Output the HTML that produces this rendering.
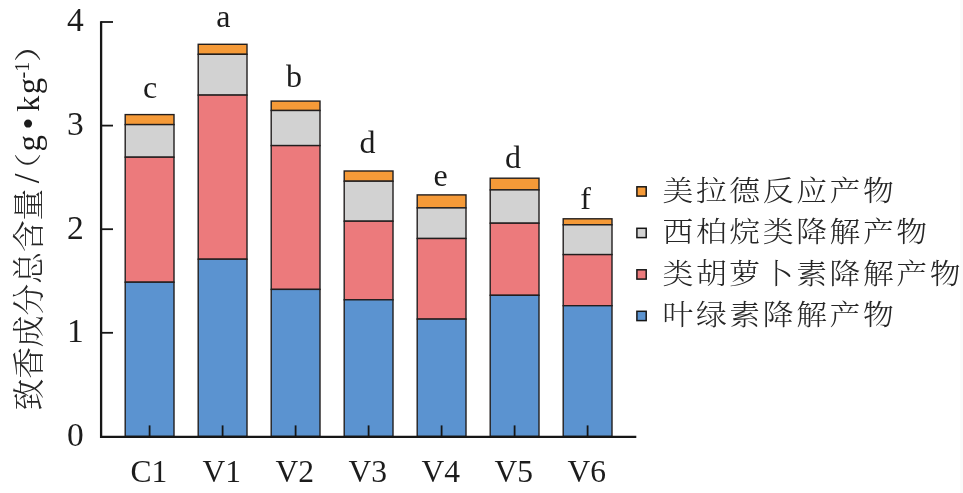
<!DOCTYPE html>
<html lang="zh"><head><meta charset="utf-8"><title>chart</title>
<style>
html,body{margin:0;padding:0;background:#fff;}
body{width:963px;height:493px;overflow:hidden;}
svg{display:block;}
text{font-family:"Liberation Serif","Noto Serif CJK SC",serif;fill:#1c1c1c;}
.cjk{font-family:"Noto Serif CJK SC","Liberation Serif",serif;font-weight:300;fill:#262626;}
</style></head><body>
<svg width="963" height="493" viewBox="0 0 963 493">
<rect width="963" height="493" fill="#fff"/>
<rect x="960.3" y="0" width="2.7" height="493" fill="#fafafa"/>

<rect x="125.2" y="114.6" width="48.8" height="10.0" fill="#f59a38" stroke="#221e1e" stroke-width="1.4"/>
<rect x="125.2" y="124.6" width="48.8" height="32.6" fill="#d2d2d2" stroke="#221e1e" stroke-width="1.4"/>
<rect x="125.2" y="157.2" width="48.8" height="125.0" fill="#ec7a7c" stroke="#221e1e" stroke-width="1.4"/>
<rect x="125.2" y="282.2" width="48.8" height="154.2" fill="#5b93d0" stroke="#221e1e" stroke-width="1.4"/>
<line x1="149.6" y1="436.4" x2="149.6" y2="425.4" stroke="#161616" stroke-width="1.8"/>
<text x="148.8" y="482.3" font-size="31.5" text-anchor="middle">C1</text>
<text x="150.0" y="97.6" font-size="32" text-anchor="middle">c</text>
<rect x="198.2" y="44.3" width="48.8" height="10.0" fill="#f59a38" stroke="#221e1e" stroke-width="1.4"/>
<rect x="198.2" y="54.3" width="48.8" height="40.8" fill="#d2d2d2" stroke="#221e1e" stroke-width="1.4"/>
<rect x="198.2" y="95.1" width="48.8" height="164.1" fill="#ec7a7c" stroke="#221e1e" stroke-width="1.4"/>
<rect x="198.2" y="259.2" width="48.8" height="177.2" fill="#5b93d0" stroke="#221e1e" stroke-width="1.4"/>
<line x1="222.6" y1="436.4" x2="222.6" y2="425.4" stroke="#161616" stroke-width="1.8"/>
<text x="221.8" y="482.3" font-size="31.5" text-anchor="middle">V1</text>
<text x="223.3" y="27.3" font-size="32" text-anchor="middle">a</text>
<rect x="271.2" y="101.1" width="48.8" height="9.4" fill="#f59a38" stroke="#221e1e" stroke-width="1.4"/>
<rect x="271.2" y="110.5" width="48.8" height="35.1" fill="#d2d2d2" stroke="#221e1e" stroke-width="1.4"/>
<rect x="271.2" y="145.6" width="48.8" height="143.8" fill="#ec7a7c" stroke="#221e1e" stroke-width="1.4"/>
<rect x="271.2" y="289.4" width="48.8" height="147.0" fill="#5b93d0" stroke="#221e1e" stroke-width="1.4"/>
<line x1="295.6" y1="436.4" x2="295.6" y2="425.4" stroke="#161616" stroke-width="1.8"/>
<text x="294.8" y="482.3" font-size="31.5" text-anchor="middle">V2</text>
<text x="293.9" y="87.4" font-size="32" text-anchor="middle">b</text>
<rect x="344.2" y="171.0" width="48.8" height="10.2" fill="#f59a38" stroke="#221e1e" stroke-width="1.4"/>
<rect x="344.2" y="181.2" width="48.8" height="40.0" fill="#d2d2d2" stroke="#221e1e" stroke-width="1.4"/>
<rect x="344.2" y="221.2" width="48.8" height="78.6" fill="#ec7a7c" stroke="#221e1e" stroke-width="1.4"/>
<rect x="344.2" y="299.8" width="48.8" height="136.6" fill="#5b93d0" stroke="#221e1e" stroke-width="1.4"/>
<line x1="368.6" y1="436.4" x2="368.6" y2="425.4" stroke="#161616" stroke-width="1.8"/>
<text x="367.8" y="482.3" font-size="31.5" text-anchor="middle">V3</text>
<text x="367.4" y="152.7" font-size="32" text-anchor="middle">d</text>
<rect x="417.2" y="194.9" width="48.8" height="13.0" fill="#f59a38" stroke="#221e1e" stroke-width="1.4"/>
<rect x="417.2" y="207.9" width="48.8" height="30.6" fill="#d2d2d2" stroke="#221e1e" stroke-width="1.4"/>
<rect x="417.2" y="238.5" width="48.8" height="80.6" fill="#ec7a7c" stroke="#221e1e" stroke-width="1.4"/>
<rect x="417.2" y="319.1" width="48.8" height="117.3" fill="#5b93d0" stroke="#221e1e" stroke-width="1.4"/>
<line x1="441.6" y1="436.4" x2="441.6" y2="425.4" stroke="#161616" stroke-width="1.8"/>
<text x="440.8" y="482.3" font-size="31.5" text-anchor="middle">V4</text>
<text x="440.6" y="186.0" font-size="32" text-anchor="middle">e</text>
<rect x="490.2" y="178.2" width="48.8" height="11.7" fill="#f59a38" stroke="#221e1e" stroke-width="1.4"/>
<rect x="490.2" y="189.9" width="48.8" height="33.3" fill="#d2d2d2" stroke="#221e1e" stroke-width="1.4"/>
<rect x="490.2" y="223.2" width="48.8" height="72.1" fill="#ec7a7c" stroke="#221e1e" stroke-width="1.4"/>
<rect x="490.2" y="295.3" width="48.8" height="141.1" fill="#5b93d0" stroke="#221e1e" stroke-width="1.4"/>
<line x1="514.6" y1="436.4" x2="514.6" y2="425.4" stroke="#161616" stroke-width="1.8"/>
<text x="513.8" y="482.3" font-size="31.5" text-anchor="middle">V5</text>
<text x="513.0" y="168.3" font-size="32" text-anchor="middle">d</text>
<rect x="563.2" y="218.8" width="48.8" height="6.0" fill="#f59a38" stroke="#221e1e" stroke-width="1.4"/>
<rect x="563.2" y="224.8" width="48.8" height="29.8" fill="#d2d2d2" stroke="#221e1e" stroke-width="1.4"/>
<rect x="563.2" y="254.6" width="48.8" height="51.1" fill="#ec7a7c" stroke="#221e1e" stroke-width="1.4"/>
<rect x="563.2" y="305.7" width="48.8" height="130.7" fill="#5b93d0" stroke="#221e1e" stroke-width="1.4"/>
<line x1="587.6" y1="436.4" x2="587.6" y2="425.4" stroke="#161616" stroke-width="1.8"/>
<text x="586.8" y="482.3" font-size="31.5" text-anchor="middle">V6</text>
<text x="585.6" y="208.8" font-size="32" text-anchor="middle">f</text>
<line x1="101.1" y1="21.2" x2="101.1" y2="438.0" stroke="#161616" stroke-width="2.3"/>
<line x1="100" y1="436.9" x2="636.3" y2="436.9" stroke="#161616" stroke-width="2.3"/>
<text x="83.8" y="445.7" font-size="33.5" text-anchor="end">0</text>
<line x1="100.8" y1="332.8" x2="113" y2="332.8" stroke="#161616" stroke-width="1.8"/>
<text x="83.8" y="342.1" font-size="33.5" text-anchor="end">1</text>
<line x1="100.8" y1="229.2" x2="113" y2="229.2" stroke="#161616" stroke-width="1.8"/>
<text x="83.8" y="238.5" font-size="33.5" text-anchor="end">2</text>
<line x1="100.8" y1="125.6" x2="113" y2="125.6" stroke="#161616" stroke-width="1.8"/>
<text x="83.8" y="134.9" font-size="33.5" text-anchor="end">3</text>
<line x1="100.8" y1="22.0" x2="113" y2="22.0" stroke="#161616" stroke-width="1.8"/>
<text x="83.8" y="31.3" font-size="33.5" text-anchor="end">4</text>
<rect x="636.9" y="186.8" width="9.3" height="9.3" fill="#f59a38" stroke="#161616" stroke-width="1.5"/>
<text class="cjk" transform="translate(662.6,200.9) scale(1,0.94)" font-size="30.8" letter-spacing="2.6">美拉德反应产物</text>
<rect x="636.9" y="228.3" width="9.3" height="9.3" fill="#d2d2d2" stroke="#161616" stroke-width="1.5"/>
<text class="cjk" transform="translate(662.6,242.4) scale(1,0.94)" font-size="30.8" letter-spacing="2.6">西柏烷类降解产物</text>
<rect x="636.9" y="269.8" width="9.3" height="9.3" fill="#ec7a7c" stroke="#161616" stroke-width="1.5"/>
<text class="cjk" transform="translate(662.6,283.9) scale(1,0.94)" font-size="30.8" letter-spacing="2.6">类胡萝卜素降解产物</text>
<rect x="636.9" y="311.3" width="9.3" height="9.3" fill="#5b93d0" stroke="#161616" stroke-width="1.5"/>
<text class="cjk" transform="translate(662.6,325.4) scale(1,0.94)" font-size="30.8" letter-spacing="2.6">叶绿素降解产物</text>
<text class="cjk" transform="translate(40.0,410.5) rotate(-90)" font-size="31.7">致香成分总含量</text>
<text transform="translate(39.2,183.3) rotate(-90)" font-size="35">/</text>
<text class="cjk" transform="translate(38.0,187.8) rotate(-90) scale(1.3,1)" font-size="27">（</text>
<text transform="translate(39.6,151.5) rotate(-90)" font-size="33">g</text>
<text transform="translate(39.8,129.4) rotate(-90)" font-size="34">•</text>
<text transform="translate(39.4,111.7) rotate(-90)" font-size="32">k</text>
<text transform="translate(39.6,94.3) rotate(-90)" font-size="33">g</text>
<text transform="translate(28.8,78.5) rotate(-90)" font-size="20">-1</text>
<text class="cjk" transform="translate(38.0,62.2) rotate(-90) scale(1.3,1)" font-size="27">）</text>
</svg></body></html>
